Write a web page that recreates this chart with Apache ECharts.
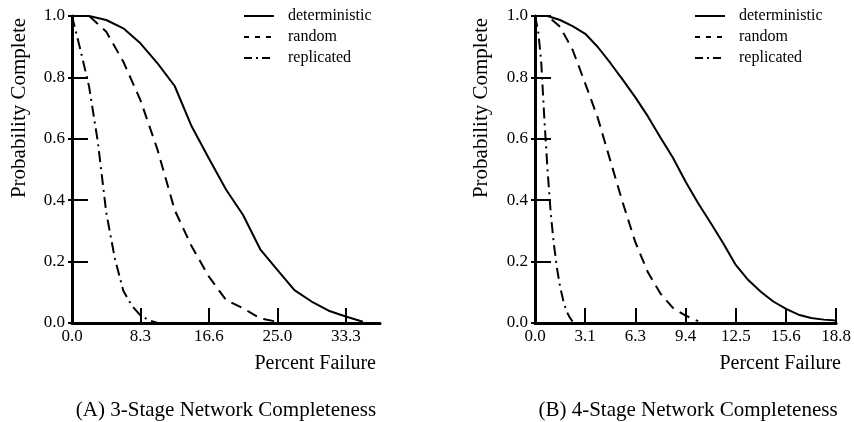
<html>
    <head>
        <meta charset="utf-8">
        <script src="https://cdn.jsdelivr.net/npm/echarts@6/dist/echarts.min.js"></script>
    </head>
    <body>
        <style>
            html, body, #main {
                width: 100%;
                height: 100%;
                margin: 0;
                background: #fff;
            }
        </style>
        <div id='main'></div>
        <script>
            // (A) 3-stage network, percent failure vs probability complete
            var failX3 = [0, 2.08, 4.17, 6.25, 8.33, 10.42, 12.5, 14.58, 16.67, 18.75, 20.83, 22.92, 25, 27.08, 29.17, 31.25, 33.33, 35.42];
            var deterministic3 = [1.0, 1.0, 0.987, 0.96, 0.911, 0.846, 0.772, 0.64, 0.536, 0.435, 0.352, 0.24, 0.173, 0.107, 0.07, 0.04, 0.021, 0.004];
            var random3 = [1.0, 1.0, 0.949, 0.851, 0.726, 0.564, 0.368, 0.249, 0.151, 0.075, 0.048, 0.015, 0.004];
            var replicatedX3 = [0, 1.04, 2.08, 3.13, 4.17, 5.21, 6.25, 7.29, 8.33, 9.38, 10.42];
            var replicated3 = [1.0, 0.888, 0.77, 0.593, 0.36, 0.211, 0.105, 0.056, 0.025, 0.009, 0.0];

            // (B) 4-stage network
            var failX4 = [0, 0.78, 1.56, 2.34, 3.13, 3.91, 4.69, 5.47, 6.25, 7.03, 7.81, 8.59, 9.38, 10.16, 10.94, 11.72, 12.5, 13.28, 14.06, 14.84, 15.63, 16.41, 17.19, 17.97, 18.75];
            var deterministic4 = [1.0, 1.0, 0.987, 0.967, 0.942, 0.899, 0.847, 0.792, 0.735, 0.673, 0.604, 0.538, 0.46, 0.39, 0.326, 0.26, 0.189, 0.14, 0.102, 0.07, 0.046, 0.027, 0.016, 0.011, 0.008];
            var random4 = [1.0, 1.0, 0.965, 0.89, 0.78, 0.668, 0.529, 0.391, 0.263, 0.165, 0.096, 0.049, 0.024, 0.006];
            var replicatedX4 = [0, 0.2, 0.39, 0.59, 0.78, 0.98, 1.17, 1.37, 1.56, 1.76, 1.95, 2.15, 2.34];
            var replicated4 = [1.0, 0.95, 0.849, 0.658, 0.5, 0.357, 0.259, 0.178, 0.119, 0.073, 0.04, 0.019, 0.005];

            // tick positions and their printed labels
            var ticks3 = [0, 8.333, 16.667, 25, 33.333];
            var tickLabels3 = ['0.0', '8.3', '16.6', '25.0', '33.3'];
            var ticks4 = [0, 3.125, 6.25, 9.375, 12.5, 15.625, 18.75];
            var tickLabels4 = ['0.0', '3.1', '6.3', '9.4', '12.5', '15.6', '18.8'];

            var names = ['deterministic', 'random', 'replicated'];
            var captions = ['(A) 3-Stage Network Completeness', '(B) 4-Stage Network Completeness'];

            var font = "'Liberation Serif', serif";
            var dashes = ['solid', [11, 7], [11, 5, 2, 5]];
            var legendDashes = ['solid', [5, 6], [8, 4, 2, 4]];

            var pairs = function (xs, ys) {
                return ys.map(function (y, i) { return [xs[i], y]; });
            };

            var xAxis = function (grid, max, ticks, labels) {
                return {
                    type: 'value', gridIndex: grid, min: 0, max: max,
                    axisLine: { show: true, lineStyle: { color: '#000', width: 3 } },
                    axisTick: { show: true, inside: true, length: 15, customValues: ticks, lineStyle: { color: '#000', width: 2 } },
                    axisLabel: {
                        customValues: ticks, margin: 5, color: '#000', fontSize: 17, fontFamily: font,
                        formatter: function (v) {
                            for (var i = 0; i < ticks.length; i++) {
                                if (Math.abs(ticks[i] - v) < 1e-6) return labels[i];
                            }
                            return '';
                        }
                    },
                    splitLine: { show: false }
                };
            };
            var yAxis = function (grid) {
                return {
                    type: 'value', gridIndex: grid, position: 'left', min: 0, max: 1, interval: 0.2,
                    axisLine: { show: true, lineStyle: { color: '#000', width: 3 } },
                    axisTick: { show: true, inside: true, length: 16, lineStyle: { color: '#000', width: 2 } },
                    axisLabel: { margin: 7, color: '#000', fontSize: 17, fontFamily: font, formatter: function (v) { return v.toFixed(1); } },
                    splitLine: { show: false }
                };
            };
            // short stubs of the y ticks poking out to the left
            var yStub = function (grid) {
                return {
                    type: 'value', gridIndex: grid, position: 'left', min: 0, max: 1, interval: 0.2,
                    axisLine: { show: false },
                    axisTick: { show: true, length: 4, lineStyle: { color: '#000', width: 2 } },
                    axisLabel: { show: false },
                    splitLine: { show: false }
                };
            };
            var line = function (name, data, grid, k) {
                return {
                    name: name, type: 'line', xAxisIndex: grid, yAxisIndex: grid,
                    data: data, symbol: 'none', showSymbol: false,
                    lineStyle: { color: '#000', width: 2, type: dashes[k] },
                    itemStyle: { color: '#000' }
                };
            };
            var legend = function (left) {
                return {
                    orient: 'vertical', left: left, top: 8, padding: 0,
                    itemWidth: 30, itemHeight: 14, itemGap: 5,
                    // hide the circle that line legends draw in the middle
                    itemStyle: { color: 'rgba(0,0,0,0)', borderWidth: 0, opacity: 0 },
                    textStyle: { color: '#000', fontSize: 16, fontFamily: font, padding: [0, 0, 0, 9] },
                    data: names.map(function (n, k) {
                        return { name: n, lineStyle: { type: legendDashes[k], width: 2, color: '#000' } };
                    })
                };
            };
            var text = function (str, x, y, size, align, rot) {
                return {
                    type: 'text', x: x, y: y, rotation: rot || 0,
                    style: {
                        text: str, x: 0, y: 0, fill: '#000',
                        font: size + 'px ' + font,
                        align: align, textAlign: align,
                        verticalAlign: 'middle', textVerticalAlign: 'middle'
                    }
                };
            };

            var chart = echarts.init(document.getElementById('main'));
            var option = {
                animation: false,
                backgroundColor: '#fff',
                textStyle: { fontFamily: font },
                grid: [
                    { left: 72, top: 16, width: 308, height: 307 },
                    { left: 535, top: 16, width: 307, height: 307 }
                ],
                xAxis: [xAxis(0, 37.5, ticks3, tickLabels3), xAxis(1, 18.75, ticks4, tickLabels4)],
                yAxis: [yAxis(0), yAxis(1), yStub(0), yStub(1)],
                legend: [legend(243), legend(694)],
                series: [
                    line(names[0], pairs(failX3, deterministic3), 0, 0),
                    line(names[1], pairs(failX3, random3), 0, 1),
                    line(names[2], pairs(replicatedX3, replicated3), 0, 2),
                    line(names[0], pairs(failX4, deterministic4), 1, 0),
                    line(names[1], pairs(failX4, random4), 1, 1),
                    line(names[2], pairs(replicatedX4, replicated4), 1, 2)
                ],
                graphic: [
                    text('Probability Complete', 19.5, 108, 21, 'center', Math.PI / 2),
                    text('Probability Complete', 481, 108, 21, 'center', Math.PI / 2),
                    text('Percent Failure', 376, 364, 20, 'right'),
                    text('Percent Failure', 841, 364, 20, 'right'),
                    text(captions[0], 226, 410, 21, 'center'),
                    text(captions[1], 688, 410, 21, 'center')
                ]
            };

            chart.setOption(option);

            window.onresize = chart.resize;
        </script>
    </body>
</html>
